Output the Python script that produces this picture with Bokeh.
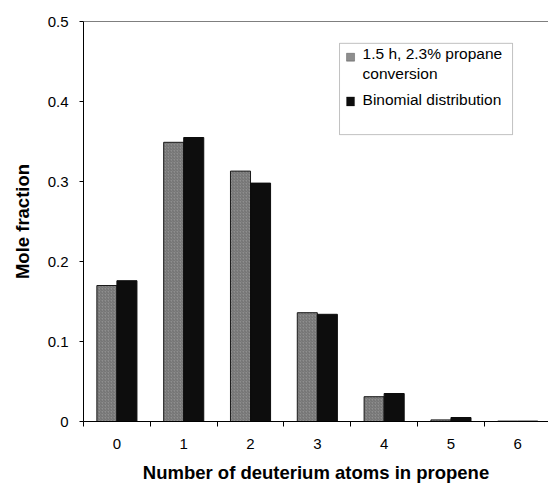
from bokeh.plotting import figure
from bokeh.models import (ColumnDataSource, FixedTicker, Range1d, Span,
                          BoxAnnotation, Label)
from bokeh.transform import dodge
from bokeh.embed import file_html
from bokeh.resources import INLINE

# Number of deuterium atoms in propene (d0 ... d6)
deuterium_atoms = [0, 1, 2, 3, 4, 5, 6]
# Measured distribution after 1.5 h, 2.3% propane conversion
measured = [0.170, 0.349, 0.313, 0.136, 0.031, 0.002, 0.0005]
# Binomial distribution
binomial = [0.176, 0.355, 0.298, 0.134, 0.035, 0.005, 0.0005]

y_ticks = [0.0, 0.1, 0.2, 0.3, 0.4, 0.5]
y_tick_labels = ["0", "0.1", "0.2", "0.3", "0.4", "0.5"]

FONT = "Liberation Sans"

src = ColumnDataSource(dict(x=deuterium_atoms, measured=measured, binomial=binomial))

p = figure(width=548, height=485, output_backend="svg", toolbar_location=None,
           x_range=Range1d(-0.5, 6.46), y_range=Range1d(0, 0.5),
           min_border_left=83, min_border_right=0, min_border_top=21,
           min_border_bottom=61)
p.outline_line_color = None
p.grid.visible = False
p.background_fill_color = "white"

bar_w = 0.3
p.vbar(x=dodge("x", -bar_w / 2, range=p.x_range), top="measured", width=bar_w,
       source=src, fill_color="#8e8e8e", line_color="#1a1a1a", line_width=1,
       hatch_pattern="right_diagonal_line", hatch_color="#5a5a5a",
       hatch_alpha=0.6, hatch_scale=3, hatch_weight=1)
p.vbar(x=dodge("x", bar_w / 2, range=p.x_range), top="binomial", width=bar_w,
       source=src, fill_color="#0d0d0d", line_color="#0d0d0d", line_width=1)

# top border of the frame
p.add_layout(Span(location=0.5, dimension="width", line_color="black", line_width=1))

# x axis: labels at category centres, ticks on category boundaries
xa = p.xaxis[0]
xa.ticker = FixedTicker(ticks=deuterium_atoms,
                        minor_ticks=[v - 0.5 for v in deuterium_atoms] + [6.5])
xa.major_label_overrides = {v: str(v) for v in deuterium_atoms}
xa.major_tick_out = 0
xa.major_tick_in = 0
xa.minor_tick_line_color = "black"
xa.minor_tick_out = 5
xa.minor_tick_in = 0
xa.major_label_standoff = 12
xa.axis_label = "Number of deuterium atoms in propene"
xa.axis_label_standoff = 10

ya = p.yaxis[0]
ya.ticker = FixedTicker(ticks=y_ticks)
ya.major_label_overrides = {t: l for t, l in zip(y_ticks, y_tick_labels)}
ya.major_tick_out = 4
ya.major_tick_in = 0
ya.minor_tick_line_color = None
ya.major_label_standoff = 11
ya.axis_label = "Mole fraction"
ya.axis_label_standoff = 12

for ax in (xa, ya):
    ax.axis_line_color = "black"
    ax.axis_line_width = 1
    ax.major_label_text_font = FONT
    ax.major_label_text_font_size = "15px"
    ax.major_label_text_color = "black"
    ax.axis_label_text_font = FONT
    ax.axis_label_text_font_size = "18.5px"
    ax.axis_label_text_font_style = "bold"
    ax.axis_label_text_color = "black"
xa.major_tick_line_color = None

# legend box
p.add_layout(BoxAnnotation(left=3.332, right=5.922, bottom=0.3586, top=0.4727,
                           fill_color="white", fill_alpha=1.0,
                           line_color="#333333", line_width=1))
p.add_layout(BoxAnnotation(left=3.437, right=3.557, bottom=0.4504, top=0.4603,
                           fill_color="#8e8e8e", fill_alpha=1.0,
                           line_color="#1a1a1a", line_width=1))
p.add_layout(BoxAnnotation(left=3.437, right=3.557, bottom=0.3945, top=0.4057,
                           fill_color="#0d0d0d", fill_alpha=1.0,
                           line_color="#0d0d0d", line_width=1))
for txt, yy in [("1.5 h, 2.3% propane", 0.4603), ("conversion", 0.4355),
                ("Binomial distribution", 0.402)]:
    p.add_layout(Label(x=3.677, y=yy, text=txt, text_font=FONT,
                       text_font_size="15.5px", text_baseline="middle",
                       text_color="black"))

open("out.html", "w").write(file_html(p, INLINE))
